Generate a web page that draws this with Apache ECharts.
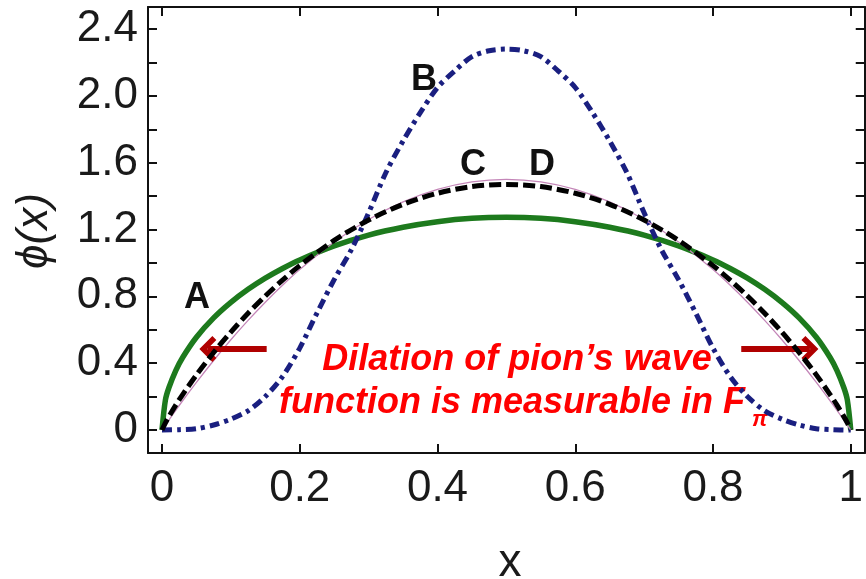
<!DOCTYPE html>
<html>
<head>
<meta charset="utf-8">
<script src="https://cdn.jsdelivr.net/npm/echarts@6/dist/echarts.min.js"></script>
<style>html,body{margin:0;padding:0;background:#fff}#c{width:866px;height:579px}</style>
</head>
<body>
<div id="c"></div>
<script>
// ---- data ----
const xFine = [0,0.005,0.01,0.02,0.03,0.05,0.075,0.1,0.125,0.15,0.175,0.2,0.25,0.3,0.35,0.4,0.45,0.5,0.55,0.6,0.65,0.7,0.75,0.8,0.825,0.85,0.875,0.9,0.925,0.95,0.97,0.98,0.99,0.995,1];
const curveA = [0,0.18,0.253,0.356,0.434,0.555,0.671,0.764,0.842,0.909,0.967,1.018,1.102,1.167,1.214,1.247,1.267,1.273,1.267,1.247,1.214,1.167,1.102,1.018,0.967,0.909,0.842,0.764,0.671,0.555,0.434,0.356,0.253,0.18,0];
const curveC = [0,0.03,0.059,0.118,0.175,0.285,0.416,0.54,0.656,0.765,0.866,0.96,1.125,1.26,1.365,1.44,1.485,1.5,1.485,1.44,1.365,1.26,1.125,0.96,0.866,0.765,0.656,0.54,0.416,0.285,0.175,0.118,0.059,0.03,0];
const curveD = [0,0.043,0.08,0.149,0.212,0.33,0.464,0.586,0.699,0.802,0.897,0.984,1.135,1.257,1.351,1.417,1.457,1.47,1.457,1.417,1.351,1.257,1.135,0.984,0.897,0.802,0.699,0.586,0.464,0.33,0.212,0.149,0.08,0.043,0];
const xB = [0,0.025,0.05,0.075,0.1,0.125,0.15,0.175,0.2,0.225,0.25,0.275,0.3,0.325,0.35,0.375,0.4,0.425,0.45,0.475,0.5,0.525,0.55,0.575,0.6,0.625,0.65,0.675,0.7,0.725,0.75,0.775,0.8,0.825,0.85,0.875,0.9,0.925,0.95,0.975,1];
const curveB = [0,0.002,0.008,0.03,0.065,0.115,0.2,0.32,0.49,0.7,0.9,1.08,1.3,1.54,1.73,1.9,2.05,2.15,2.235,2.27,2.28,2.27,2.235,2.15,2.05,1.9,1.73,1.54,1.3,1.08,0.9,0.7,0.49,0.32,0.2,0.115,0.065,0.03,0.008,0.002,0];
const xTicks = [0,0.2,0.4,0.6,0.8,1];
const xTickLabels = ['0','0.2','0.4','0.6','0.8','1'];
const yTicks = [0,0.2,0.4,0.6,0.8,1.0,1.2,1.4,1.6,1.8,2.0,2.2,2.4];
const yLabelValues = [0,0.4,0.8,1.2,1.6,2.0,2.4];
const yTickLabels = ['0','0.4','0.8','1.2','1.6','2.0','2.4'];
const curveLabels = ['A','B','C','D'];
const arrowLeft = [[0.152,0.485],[0.0666,0.485]];
const arrowRight = [[0.841,0.485],[0.9407,0.485]];

const XMIN = -0.0203, XMAX = 1.0203, YMIN = -0.1377, YMAX = 2.532;
const FONT = '"Liberation Sans", Arial, Helvetica, sans-serif';

function pairs(xs, ys){ return xs.map((x,i)=>[x, ys[i]]); }
function lookup(vals, labels){ return v => { for (let i=0;i<vals.length;i++){ if (Math.abs(vals[i]-v)<1e-6) return labels[i]; } return ''; }; }

const axisLineStyle = {color:'#111', width:2};
const tickStyle = {color:'#111', width:2};

const chart = echarts.init(document.getElementById('c'), null, {renderer:'canvas'});
const chevron = 'path://M13,0 L26,13 L22,17 L13,8 L4,17 L0,13 Z';

chart.setOption({
  animation:false,
  backgroundColor:'#fff',
  grid:{left:148, top:7, right:-1, bottom:126, containLabel:false},
  xAxis:[
    {type:'value', min:XMIN, max:XMAX, position:'bottom',
     axisLine:{onZero:false, lineStyle:axisLineStyle},
     axisTick:{inside:true, length:9, customValues:xTicks, lineStyle:tickStyle},
     axisLabel:{customValues:xTicks, formatter:lookup(xTicks,xTickLabels), fontSize:44, fontFamily:FONT, color:'#1a1a1a', margin:14},
     splitLine:{show:false}},
    {type:'value', min:XMIN, max:XMAX, position:'top',
     axisLine:{onZero:false, lineStyle:axisLineStyle},
     axisTick:{inside:true, length:9, customValues:xTicks, lineStyle:tickStyle},
     axisLabel:{show:false}, splitLine:{show:false}}
  ],
  yAxis:[
    {type:'value', min:YMIN, max:YMAX, position:'left',
     axisLine:{onZero:false, lineStyle:axisLineStyle},
     axisTick:{inside:true, length:9, customValues:yTicks, lineStyle:tickStyle},
     axisLabel:{customValues:yLabelValues, formatter:lookup(yLabelValues,yTickLabels), fontSize:44, fontFamily:FONT, color:'#1a1a1a', margin:10},
     splitLine:{show:false}},
    {type:'value', min:YMIN, max:YMAX, position:'right',
     axisLine:{onZero:false, lineStyle:axisLineStyle},
     axisTick:{inside:true, length:9, customValues:yTicks, lineStyle:tickStyle},
     axisLabel:{show:false}, splitLine:{show:false}}
  ],
  series:[
    {name:'A', type:'line', data:pairs(xFine,curveA), showSymbol:false, smooth:0.3,
     lineStyle:{color:'#1d7a1d', width:5.5}, z:2},
    {name:'B', type:'line', data:pairs(xB,curveB), showSymbol:false, smooth:0.3,
     lineStyle:{color:'#1a1f80', width:5, type:[10,5,4,5]}, z:3},
    {name:'C', type:'line', data:pairs(xFine,curveC), showSymbol:false, smooth:0.3,
     lineStyle:{color:'#c486b8', width:1.3}, z:4},
    {name:'D', type:'line', data:pairs(xFine,curveD), showSymbol:false, smooth:0.3,
     lineStyle:{color:'#000', width:5, type:[12,5]}, z:5,
     markLine:{silent:true, animation:false, symbol:['none', chevron], symbolSize:[26,17],
       label:{show:false},
       lineStyle:{color:'#b00000', width:6, type:'solid'},
       data:[
         [{coord:arrowLeft[0]},{coord:arrowLeft[1]}],
         [{coord:arrowRight[0]},{coord:arrowRight[1]}]
       ]}}
  ],
  graphic:[
    {type:'text', x:197, y:298, style:{text:curveLabels[0], font:'bold 36px '+FONT, fill:'#111', textAlign:'center', textVerticalAlign:'middle'}},
    {type:'text', x:424, y:80, style:{text:curveLabels[1], font:'bold 36px '+FONT, fill:'#111', textAlign:'center', textVerticalAlign:'middle'}},
    {type:'text', x:473, y:165, style:{text:curveLabels[2], font:'bold 36px '+FONT, fill:'#111', textAlign:'center', textVerticalAlign:'middle'}},
    {type:'text', x:542, y:165, style:{text:curveLabels[3], font:'bold 36px '+FONT, fill:'#111', textAlign:'center', textVerticalAlign:'middle'}},
    {type:'text', x:517, y:360, style:{text:'Dilation of pion’s wave', font:'italic bold 36px '+FONT, fill:'#ff0000', textAlign:'center', textVerticalAlign:'middle'}},
    {type:'text', x:512, y:403, style:{text:'function is measurable in F', font:'italic bold 36px '+FONT, fill:'#ff0000', textAlign:'center', textVerticalAlign:'middle'}},
    {type:'text', x:752, y:420, style:{text:'π', font:'italic bold 22px '+FONT, fill:'#ff0000', textAlign:'left', textVerticalAlign:'middle'}},
    {type:'text', x:510, y:563, style:{text:'x', font:'46px '+FONT, fill:'#1a1a1a', textAlign:'center', textVerticalAlign:'middle'}},
    {type:'text', x:35, y:231, rotation:Math.PI/2, style:{text:'ϕ(x)', font:'italic 44px '+FONT, fill:'#1a1a1a', textAlign:'center', textVerticalAlign:'middle'}}
  ]
});
</script>
</body>
</html>
